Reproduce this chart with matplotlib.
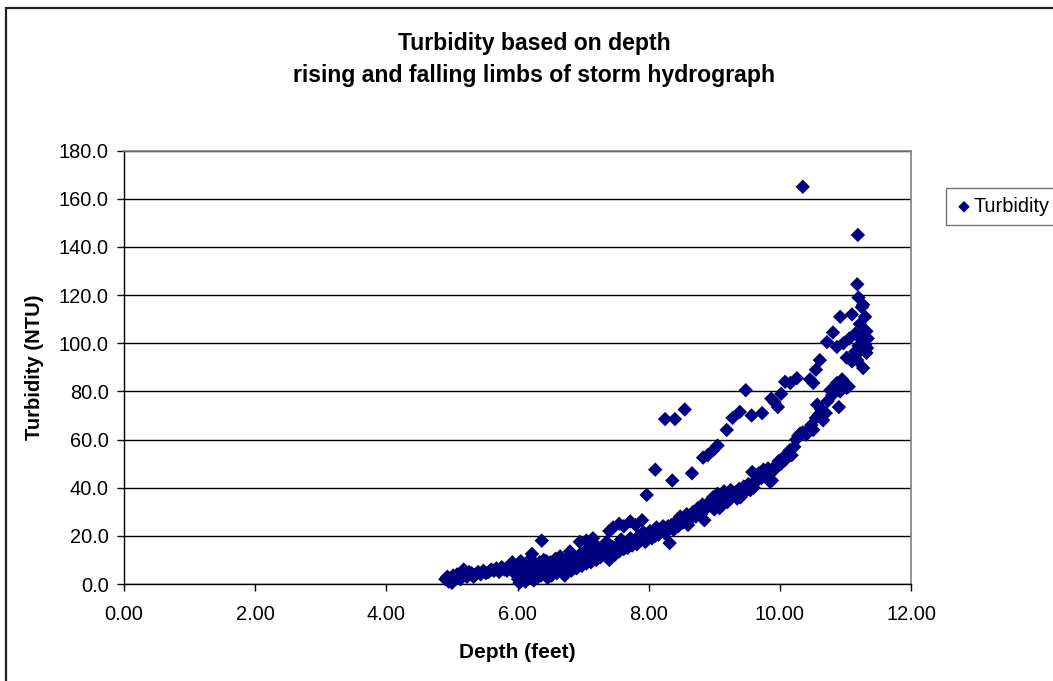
import matplotlib
matplotlib.use('Agg')
import matplotlib.pyplot as plt
from matplotlib.patches import Rectangle
import numpy as np

plt.rcParams['font.family'] = ['Liberation Sans', 'DejaVu Sans']

# main band of readings (depth in feet, turbidity in NTU)
depth_lower = [4.90, 4.93, 4.95, 4.98, 5.00, 5.02, 5.05, 5.08, 5.10, 5.13,
               5.16, 5.18, 5.20, 5.23, 5.26, 5.30, 5.33, 5.36, 5.40, 5.44,
               5.48, 5.52, 5.56, 5.60, 5.64, 5.68, 5.72, 5.76, 5.80, 5.84,
               5.88, 5.92, 5.95, 5.97, 6.00, 6.01, 6.02, 6.03, 6.04, 6.05,
               6.06, 6.08, 6.09, 6.10, 6.12, 6.13, 6.15, 6.16, 6.18, 6.20,
               6.21, 6.22, 6.24, 6.25, 6.27, 6.29, 6.30, 6.32, 6.34, 6.36,
               6.38, 6.40, 6.42, 6.44, 6.46, 6.48, 6.50, 6.52, 6.55, 6.58,
               6.60, 6.62, 6.65, 6.67, 6.70, 6.72, 6.75, 6.78, 6.80, 6.82,
               6.85, 6.88, 6.90, 6.93, 6.96, 6.98, 7.00, 7.03, 7.05, 7.08,
               7.10, 7.12, 7.15, 7.18, 7.20, 7.23, 7.26, 7.30, 7.33, 7.36,
               7.40, 7.42, 7.45, 7.48, 7.52, 7.55, 7.58, 7.62, 7.65, 7.68,
               7.72, 7.75, 7.78, 7.82, 7.85, 7.88, 7.92, 7.95, 7.98, 8.02,
               8.05, 8.08, 8.12, 8.15, 8.18, 8.22, 8.25, 8.28, 8.32, 8.35,
               8.38, 8.42, 8.45, 8.48, 8.52, 8.55, 8.58, 8.62, 8.65, 8.68,
               8.72, 8.75, 8.78, 8.82, 8.85, 8.88, 8.92, 8.95, 8.98, 9.02,
               9.05, 9.08, 9.12, 9.15, 9.18, 9.22, 9.25, 9.28, 9.32, 9.35,
               9.38, 9.42, 9.45, 9.48, 9.52, 9.55, 9.58, 9.62, 9.65, 9.68,
               9.72, 9.75, 9.78, 9.82, 9.85, 9.88, 9.92, 9.95, 9.98, 10.02,
               10.05, 10.08, 10.12, 10.15, 10.18, 10.22, 10.25, 10.28, 10.31, 10.35,
               10.40, 10.45, 10.48, 10.51, 10.55, 10.57, 10.60, 10.63, 10.66, 10.70,
               10.73, 10.77, 10.80, 10.84, 10.87, 10.90, 10.92, 10.95, 10.98, 11.02,
               11.05, 11.10, 11.13, 11.15, 11.18, 11.20, 11.23, 11.25, 11.27, 11.30,
               11.32, 11.34,
               6.14, 6.26, 6.44, 6.57, 6.73, 6.91, 7.07, 7.22, 7.38, 7.50,
               7.70, 7.90, 8.10, 8.30, 8.60, 8.80, 9.00, 9.20, 9.40, 9.60]
turb_lower = [2.0, 3.0, 1.0, 2.5, 0.5, 3.5, 2.0, 4.0, 3.0, 2.0,
              5.0, 6.0, 4.0, 3.0, 5.0, 4.5, 3.0, 4.0, 5.0, 4.0,
              5.5, 4.5, 5.0, 6.0, 5.5, 6.5, 5.0, 7.0, 6.0, 5.5,
              7.5, 9.0, 6.5, 4.0, 8.0, 2.0, 5.5, 0.5, 3.5, 9.5,
              1.5, 6.5, 3.0, 7.5, 1.0, 4.5, 8.5, 2.5, 5.5, 10.5,
              3.5, 12.5, 6.5, 1.5, 4.5, 8.0, 2.5, 5.5, 9.0, 3.5,
              6.5, 10.0, 4.5, 7.5, 2.5, 5.5, 9.0, 3.5, 6.5, 10.5,
              4.5, 7.5, 11.5, 5.5, 8.5, 3.5, 6.5, 9.5, 13.5, 5.5,
              8.0, 11.0, 6.5, 9.5, 12.5, 7.5, 10.5, 13.5, 8.5, 11.5,
              15.0, 9.0, 12.5, 16.5, 10.0, 13.5, 11.0, 14.5, 12.0, 17.5,
              10.0, 13.0, 15.5, 12.0, 16.0, 13.5, 18.5, 14.5, 17.0, 15.0,
              19.0, 16.0, 18.0, 16.5, 20.0, 18.0, 21.5, 17.5, 20.0, 22.0,
              19.0, 21.5, 23.5, 20.5, 22.5, 24.0, 21.0, 23.5, 17.0, 24.5,
              22.5, 26.0, 24.0, 28.0, 25.5, 27.0, 29.0, 26.5, 28.5, 30.0,
              28.0, 31.5, 29.5, 33.0, 26.5, 31.5, 34.0, 32.5, 36.0, 34.5,
              37.5, 31.5, 36.0, 38.5, 35.5, 37.0, 39.0, 36.5, 38.0, 35.5,
              39.5, 37.5, 40.5, 38.5, 41.5, 39.0, 46.5, 42.0, 43.5, 46.0,
              44.0, 47.5, 45.5, 48.0, 42.5, 43.0, 47.5, 49.5, 51.0, 50.0,
              52.5, 51.5, 54.0, 55.5, 53.5, 57.0, 60.0, 61.5, 62.5, 63.0,
              62.0, 64.5, 66.0, 64.0, 69.0, 74.5, 70.5, 72.5, 68.0, 71.0,
              76.0, 80.5, 78.5, 82.0, 83.5, 73.5, 80.0, 85.0, 82.5, 81.5,
              82.0, 92.5, 94.0, 96.5, 93.0, 99.0, 97.0, 101.5, 89.7, 99.5,
              96.0, 102.0,
              6.0, 7.0, 9.5, 8.0, 10.0, 10.5, 14.0, 12.5, 15.0, 14.0,
              17.5, 19.5, 20.0, 24.0, 24.5, 29.0, 31.0, 34.0, 36.0, 40.0]

# upper branch of the loop
depth_upper = [6.37, 6.95, 7.05, 7.15, 7.40, 7.46, 7.55, 7.62, 7.72, 7.80,
               7.90, 7.97, 8.10, 8.25, 8.36, 8.40, 8.55, 8.66, 8.83, 8.90,
               8.98, 9.05, 9.19, 9.28, 9.39, 9.48, 9.57, 9.73, 9.87, 9.92,
               9.97, 10.02, 10.08, 10.16, 10.26, 10.35, 10.46, 10.51, 10.55, 10.61,
               10.72, 10.81, 10.87, 10.92, 10.97, 11.02, 11.06, 11.10, 11.15, 11.18,
               11.19, 11.20, 11.22, 11.25, 11.27, 11.30, 11.32, 11.33]
turb_upper = [18.0, 17.5, 18.0, 19.0, 22.0, 23.5, 25.0, 24.0, 26.0, 24.5,
              26.5, 37.0, 47.5, 68.5, 43.0, 68.5, 72.5, 46.0, 52.5, 53.5,
              55.5, 57.5, 64.0, 69.0, 71.5, 80.5, 70.0, 71.0, 77.0, 75.5,
              73.5, 79.0, 84.0, 83.5, 85.5, 165.0, 85.0, 83.5, 89.0, 93.0,
              100.5, 104.5, 98.5, 111.0, 100.0, 94.0, 102.0, 112.0, 104.0, 124.5,
              145.0, 119.0, 108.0, 115.0, 116.0, 111.0, 105.0, 98.0]

depth = np.array(depth_lower + depth_upper)
turbidity = np.array(turb_lower + turb_upper)

fig = plt.figure(figsize=(10.53, 6.81), dpi=100)
ax = fig.add_axes([124 / 1053, 1 - 584 / 681, 787 / 1053, (584 - 150.7) / 681])

ax.scatter(depth, turbidity, marker='D', s=54, color='#000080',
           edgecolors='none', label='Turbidity', zorder=3, clip_on=False)

ax.set_xlim(0, 12)
ax.set_ylim(0, 180)
ax.set_xticks(np.arange(0, 12.1, 2))
ax.set_yticks(np.arange(0, 181, 20))
ax.xaxis.set_major_formatter(matplotlib.ticker.FormatStrFormatter('%.2f'))
ax.yaxis.set_major_formatter(matplotlib.ticker.FormatStrFormatter('%.1f'))
ax.tick_params(axis='both', direction='out', length=5, width=1,
               color='black', labelsize=14.4)
ax.tick_params(axis='x', pad=10)
ax.tick_params(axis='y', pad=6)

ax.grid(axis='y', color='black', linewidth=1.0)
ax.set_axisbelow(True)
for side in ('top', 'right'):
    ax.spines[side].set_color('#808080')
    ax.spines[side].set_linewidth(1.2)
for side in ('left', 'bottom'):
    ax.spines[side].set_color('black')
    ax.spines[side].set_linewidth(1.0)

ax.set_xlabel('Depth (feet)', fontsize=15, fontweight='bold', va='center')
ax.xaxis.set_label_coords(0.5, (584 - 652) / 433.3)
ax.set_ylabel('Turbidity (NTU)', fontsize=14.6, fontweight='bold', va='center')
ax.yaxis.set_label_coords((35 - 124) / 787, 0.5)

fig.text(534 / 1053, 1 - 50 / 681, 'Turbidity based on depth',
         ha='center', va='baseline', fontsize=16.6, fontweight='bold')
fig.text(534 / 1053, 1 - 82 / 681, 'rising and falling limbs of storm hydrograph',
         ha='center', va='baseline', fontsize=16.6, fontweight='bold')

leg = ax.legend(loc='upper left', bbox_to_anchor=(946 / 1053, 1 - 188 / 681),
                bbox_transform=fig.transFigure, frameon=True, fancybox=False,
                fontsize=14.4, markerscale=0.8, handletextpad=0.05,
                handlelength=0.9, borderpad=0.45, borderaxespad=0)
leg.get_frame().set_edgecolor('#555555')
leg.get_frame().set_linewidth(1.0)

# chart area border
fig.patches.append(Rectangle((6 / 1053, -0.1), 1.2, 1.1 - 8 / 681,
                             transform=fig.transFigure, fill=False,
                             edgecolor='#222222', linewidth=1.6))

fig.savefig('out.png', dpi=100)
